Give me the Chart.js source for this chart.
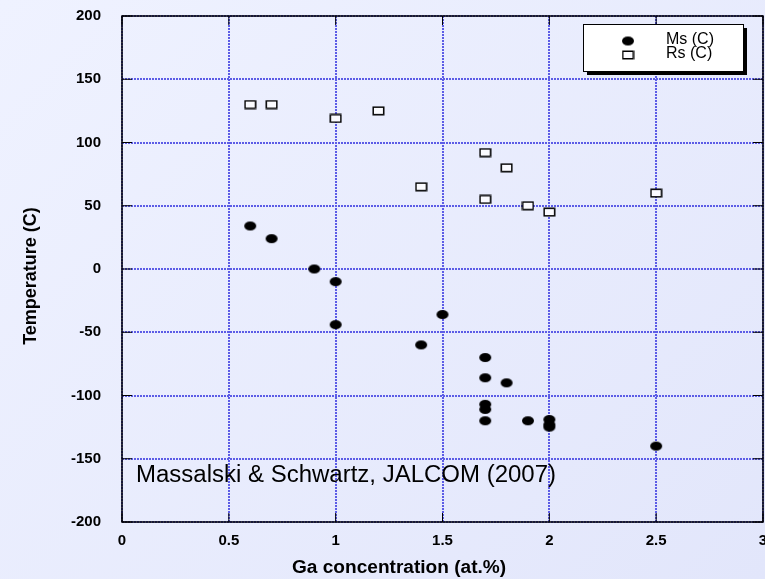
<!DOCTYPE html>
<html>
<head>
<meta charset="utf-8">
<script src="https://cdn.jsdelivr.net/npm/chart.js@4.4.0/dist/chart.umd.min.js"></script>
<style>
  html, body { margin: 0; padding: 0; overflow: hidden; }
  body { width: 765px; height: 579px; background: linear-gradient(135deg, #eff2ff 0%, #e2e6fb 100%); }
  #wrap { width: 765px; height: 579px; overflow: hidden; }
</style>
</head>
<body>
<div id="wrap"><canvas id="chart" width="770" height="579"></canvas></div>
<script>
// Ms (C) -- filled markers
const msX = [0.6, 0.7, 0.9, 1.0, 1.0, 1.4, 1.5, 1.7, 1.7, 1.7, 1.7, 1.7, 1.8, 1.9, 2.0, 2.0, 2.0, 2.5];
const msY = [34, 24, 0, -10, -44, -60, -36, -70, -86, -107, -111, -120, -90, -120, -119, -123, -125, -140];
// Rs (C) -- open markers
const rsX = [0.6, 0.7, 1.0, 1.2, 1.4, 1.7, 1.7, 1.8, 1.9, 2.0, 2.5];
const rsY = [130, 130, 119, 125, 65, 92, 55, 80, 50, 45, 60];

const seriesNames = ['Ms (C)', 'Rs (C)'];
const xTitle = 'Ga concentration (at.%)';
const yTitle = 'Temperature (C)';
const note = 'Massalski & Schwartz, JALCOM (2007)';

const FONT = '"Liberation Sans", Arial, sans-serif';

function makeDot() {
  const c = document.createElement('canvas');
  c.width = 14; c.height = 11;
  const g = c.getContext('2d');
  g.fillStyle = '#000';
  g.beginPath();
  g.ellipse(7, 5.5, 6, 4.6, 0, 0, Math.PI * 2);
  g.fill();
  return c;
}
function makeBox() {
  const c = document.createElement('canvas');
  c.width = 13; c.height = 10;
  const g = c.getContext('2d');
  g.fillStyle = '#fbfbff';
  g.fillRect(1, 1, 11, 8);
  g.strokeStyle = '#000';
  g.lineWidth = 1.5;
  g.strokeRect(1.25, 1.25, 10.5, 7.5);
  return c;
}
const dot = makeDot();
const box = makeBox();

const toPts = (xs, ys) => xs.map((x, i) => ({ x: x, y: ys[i] }));

const extras = {
  id: 'extras',
  afterDraw(chart) {
    const { ctx, chartArea: a, scales } = chart;
    ctx.save();
    // frame
    ctx.strokeStyle = '#000';
    ctx.lineWidth = 1.5;
    ctx.strokeRect(a.left, a.top, a.right - a.left, a.bottom - a.top);
    // inward ticks
    ctx.lineWidth = 1;
    scales.x.ticks.forEach(t => {
      const px = scales.x.getPixelForValue(t.value);
      ctx.beginPath();
      ctx.moveTo(px, a.bottom); ctx.lineTo(px, a.bottom - 9);
      ctx.moveTo(px, a.top); ctx.lineTo(px, a.top + 9);
      ctx.stroke();
    });
    scales.y.ticks.forEach(t => {
      const py = scales.y.getPixelForValue(t.value);
      ctx.beginPath();
      ctx.moveTo(a.left, py); ctx.lineTo(a.left + 10, py);
      ctx.moveTo(a.right, py); ctx.lineTo(a.right - 10, py);
      ctx.stroke();
    });
    // axis titles
    ctx.fillStyle = '#000';
    ctx.font = 'bold 18px ' + FONT;
    ctx.textAlign = 'left';
    ctx.textBaseline = 'middle';
    ctx.save();
    ctx.translate(292, 568);
    ctx.scale(1.06, 1);
    ctx.fillText(xTitle, 0, 0);
    ctx.restore();
    ctx.save();
    ctx.translate(31, 276);
    ctx.rotate(-Math.PI / 2);
    ctx.textAlign = 'center';
    ctx.fillText(yTitle, 0, 0);
    ctx.restore();
    // note
    ctx.textAlign = 'left';
    ctx.font = '23px ' + FONT;
    ctx.save();
    ctx.translate(136, 476);
    ctx.scale(420 / ctx.measureText(note).width, 1);
    ctx.fillText(note, 0, 0);
    ctx.restore();
    // legend
    const lx = 583, ly = 24, lw = 160, lh = 47;
    ctx.fillStyle = '#000';
    ctx.fillRect(lx + 4, ly + 4, lw, lh);
    ctx.fillStyle = '#ffffff';
    ctx.fillRect(lx, ly, lw, lh);
    ctx.strokeStyle = '#000';
    ctx.lineWidth = 1;
    ctx.strokeRect(lx + 0.5, ly + 0.5, lw, lh);
    ctx.drawImage(dot, 628 - 7, 41 - 5.5);
    ctx.drawImage(box, 628 - 6.5, 55 - 5);
    ctx.fillStyle = '#000';
    ctx.font = '16px ' + FONT;
    ctx.fillText(seriesNames[0], 666, 40);
    ctx.fillText(seriesNames[1], 666, 54);
    ctx.restore();
  }
};

new Chart(document.getElementById('chart'), {
  type: 'scatter',
  data: {
    datasets: [
      { label: seriesNames[0], data: toPts(msX, msY), pointStyle: dot, pointRadius: 6, pointHoverRadius: 6 },
      { label: seriesNames[1], data: toPts(rsX, rsY), pointStyle: box, pointRadius: 6, pointHoverRadius: 6 }
    ]
  },
  options: {
    responsive: false,
    animation: false,
    events: [],
    layout: { padding: { top: 16, right: 2, left: 0, bottom: 0 } },
    plugins: { legend: { display: false }, tooltip: { enabled: false } },
    scales: {
      x: {
        type: 'linear', min: 0, max: 3,
        afterFit(s) { s.height = 57; s.paddingLeft = 0; s.paddingRight = 0; },
        ticks: { stepSize: 0.5, color: '#000', padding: 10, maxRotation: 0, autoSkip: false,
          callback: v => String(v),
          font: { family: FONT, size: 15, weight: 'bold' } },
        grid: { color: '#5c5ce6', lineWidth: 2, drawTicks: false },
        border: { display: false, dash: [2, 1] }
      },
      y: {
        type: 'linear', min: -200, max: 200,
        afterFit(s) { s.width = 122; s.paddingTop = 0; s.paddingBottom = 0; },
        ticks: { stepSize: 50, color: '#000', padding: 21,
          font: { family: FONT, size: 15, weight: 'bold' } },
        grid: { color: '#5c5ce6', lineWidth: 2, drawTicks: false },
        border: { display: false, dash: [2, 1] }
      }
    }
  },
  plugins: [extras]
});
</script>
</body>
</html>
